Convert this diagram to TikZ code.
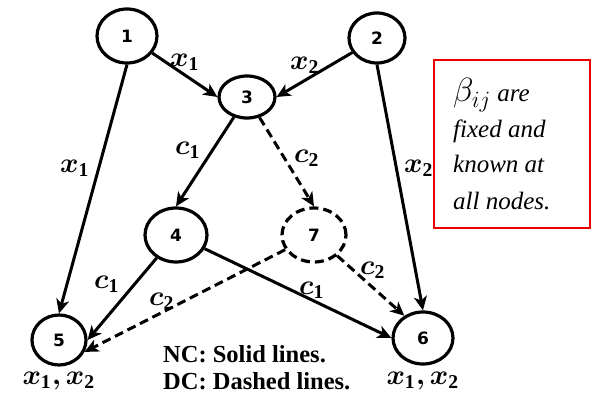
\documentclass[tikz,border=0pt]{standalone}
\usepackage{bm}
\usepackage{fontspec}
\setmainfont{Liberation Serif}
\newfontfamily\digitfont{DejaVu Sans}
\usetikzlibrary{arrows.meta,shapes.geometric}
\definecolor{BoxClr}{rgb}{0.93,0,0}
\newcommand{\biglabel}[1]{\scalebox{2.8}{$#1$}}

\begin{document}
\begin{tikzpicture}[x=1pt,y=-1pt]
\tikzset{
  vertex/.style={ellipse,draw,line width=3.2pt,inner sep=0pt,
    font=\digitfont\bfseries\fontsize{17}{20}\selectfont},
  link/.style={line width=3pt,-{Stealth[length=14pt,width=13pt,inset=4pt]}},
  dlink/.style={link,dash pattern=on 9pt off 5pt},
  elabel/.style={inner sep=0pt},
  boxtext/.style={anchor=base west,inner sep=0pt,font=\itshape\fontsize{25}{30}\selectfont},
  notetext/.style={anchor=base west,inner sep=0pt,font=\bfseries\fontsize{24.5}{28}\selectfont}
}
\useasboundingbox (0,0) rectangle (592,393);

% vertices
\node[vertex,minimum width=60pt,minimum height=54pt] (n1) at (127,36) {1};
\node[vertex,minimum width=56pt,minimum height=50pt] (n2) at (377,38) {2};
\node[vertex,minimum width=56pt,minimum height=42pt] (n3) at (247,97) {3};
\node[vertex,minimum width=62pt,minimum height=54pt] (n4) at (176,235) {4};
\node[vertex,minimum width=54pt,minimum height=50pt] (n5) at (59,340) {5};
\node[vertex,minimum width=60pt,minimum height=52pt] (n6) at (423,338) {6};
\node[vertex,dash pattern=on 9pt off 5pt,minimum width=64pt,minimum height=54pt] (n7) at (314,235) {7};

% solid links
\draw[link] (n1.south) -- (n5.north);
\draw[link] (n2.south) -- (n6.north);
\draw[link] (n1) -- (n3.west);
\draw[link] (n2) -- (n3.east);
\draw[link] (n3) -- (n4.north);
\draw[link] (n4) -- (n5.east);
\draw[link] (n4) -- (n6.west);

% dashed links
\draw[dlink] (n3) -- (n7.north);
\draw[dlink] (n7) -- (n5.-25);
\draw[dlink] (n7) -- (n6.130);

% link labels
\node[elabel] (l13) at (185,62) {\biglabel{\bm{x}_{\mathbf{1}}}};
\node[elabel] (l15) at (75,168) {\biglabel{\bm{x}_{\mathbf{1}}}};
\node[elabel] (l23) at (305,65) {\biglabel{\bm{x}_{\mathbf{2}}}};
\node[elabel] (l26) at (419,168) {\biglabel{\bm{x}_{\mathbf{2}}}};
\node[elabel] (l34) at (188,150) {\biglabel{\bm{c}_{\mathbf{1}}}};
\node[elabel] (l37) at (307,158) {\biglabel{\bm{c}_{\mathbf{2}}}};
\node[elabel] (l45) at (107,284) {\biglabel{\bm{c}_{\mathbf{1}}}};
\node[elabel] (l75) at (162,301) {\biglabel{\bm{c}_{\mathbf{2}}}};
\node[elabel] (l46) at (312,290) {\biglabel{\bm{c}_{\mathbf{1}}}};
\node[elabel] (l76) at (373,270) {\biglabel{\bm{c}_{\mathbf{2}}}};
\node[elabel] (d5) at (59,381) {\biglabel{\bm{x}_{\mathbf{1}}\bm{,}\bm{x}_{\mathbf{2}}}};
\node[elabel] (d6) at (423,381) {\biglabel{\bm{x}_{\mathbf{1}}\bm{,}\bm{x}_{\mathbf{2}}}};

% note box
\draw[BoxClr,line width=1.8pt] (434,60) rectangle (590,228);
\node[boxtext] (b1) at (453,102) {\scalebox{1.35}{$\beta_{ij}$} are};
\node[boxtext] (b2) at (453,138) {fixed and};
\node[boxtext] (b3) at (453,173) {known at};
\node[boxtext] (b4) at (453,210) {all nodes.};

% legend
\node[notetext] (nc) at (163,362) {NC: Solid lines.};
\node[notetext] (dc) at (163,389) {DC: Dashed lines.};
\end{tikzpicture}
\end{document}
